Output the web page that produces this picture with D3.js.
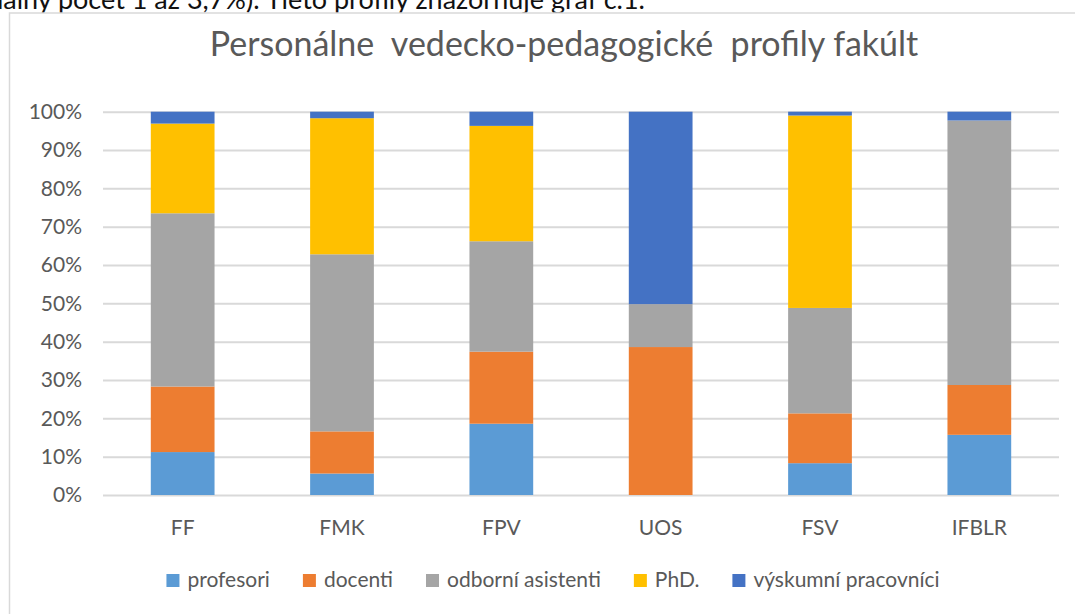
<!DOCTYPE html>
<html>
<head>
<meta charset="utf-8">
<script src="https://cdn.jsdelivr.net/npm/d3@7"></script>
<style>
  html, body { margin: 0; padding: 0; background: #fff; }
  svg { display: block; }
</style>
</head>
<body>
<svg id="chart" width="1075" height="614"></svg>
<script>
// ---- data ----
const categories = ["FF", "FMK", "FPV", "UOS", "FSV", "IFBLR"];
const seriesNames = ["profesori", "docenti", "odborní asistenti", "PhD.", "výskumní pracovníci"];
const seriesColors = ["#5B9BD5", "#ED7D31", "#A5A5A5", "#FFC000", "#4472C4"];
const profesori = [11.2, 5.6, 18.6, 0, 8.3, 15.7];
const docenti = [17.1, 11.0, 18.8, 38.6, 13.0, 13.0];
const odborniAsistenti = [45.2, 46.2, 28.8, 11.2, 27.5, 69.0];
const phd = [23.4, 35.5, 30.1, 0, 50.2, 0];
const vyskumniPracovnici = [3.1, 1.7, 3.7, 50.2, 1.0, 2.3];
const yTicks = [0, 0.1, 0.2, 0.3, 0.4, 0.5, 0.6, 0.7, 0.8, 0.9, 1.0];
const titleText = "Personálne  vedecko-pedagogické  profily fakúlt";
const aboveText = "minimálny počet 1 až 3,7%). Tieto profily znázorňuje graf č.1.";

const seriesValues = [profesori, docenti, odborniAsistenti, phd, vyskumniPracovnici];
const keys = seriesNames;
const rows = categories.map((c, i) => {
  const r = { cat: c };
  const total = d3.sum(seriesValues, s => s[i]);
  keys.forEach((k, j) => { r[k] = seriesValues[j][i] / total; });
  return r;
});
const stacked = d3.stack().keys(keys)(rows);

const svg = d3.select("#chart");
const FONT = "Lato, 'Open Sans', sans-serif";
const TXT = "#595959";

// text above the chart (cut off by the page edge, as in the source document)
svg.append("text")
  .attr("x", 645).attr("y", 9)
  .attr("text-anchor", "end")
  .attr("font-family", FONT).attr("font-size", 27).attr("font-weight", 400)
  .attr("fill", "#111")
  .text(aboveText);

// chart frame
svg.append("rect")
  .attr("x", 9.5).attr("y", 13).attr("width", 1100).attr("height", 700)
  .attr("fill", "#fff").attr("stroke", "#D9D9D9").attr("stroke-width", 1.5);

const plot = { left: 103, right: 1059, top: 111.7, bottom: 495 };
const x = d3.scaleBand().domain(categories).range([plot.left, plot.right]).paddingInner(0.6).paddingOuter(0.3);
const y = d3.scaleLinear().domain([0, 1]).range([plot.bottom, plot.top]);

// title
svg.append("text")
  .attr("x", 564).attr("y", 56)
  .attr("text-anchor", "middle")
  .attr("font-family", FONT).attr("font-size", 34).attr("font-weight", 400)
  .attr("fill", TXT)
  .attr("xml:space", "preserve").style("white-space", "pre")
  .text(titleText);

// gridlines + y axis
const yAxis = d3.axisLeft(y).tickValues(yTicks).tickFormat(d3.format(".0%"))
  .tickSize(-(plot.right - plot.left)).tickPadding(21);
const gy = svg.append("g").attr("transform", `translate(${plot.left},0)`).call(yAxis);
gy.select(".domain").remove();
gy.selectAll(".tick line").attr("stroke", "#D9D9D9").attr("stroke-width", 2);
gy.selectAll(".tick text").attr("font-family", FONT).attr("font-size", 21).attr("fill", TXT);

// bars
svg.append("g").selectAll("g").data(stacked).join("g")
  .attr("fill", (d, i) => seriesColors[i])
  .selectAll("rect").data(d => d).join("rect")
  .attr("x", d => x(d.data.cat))
  .attr("width", x.bandwidth())
  .attr("y", d => y(d[1]))
  .attr("height", d => y(d[0]) - y(d[1]));

// x axis labels
const xAxis = d3.axisBottom(x).tickSize(0).tickPadding(25);
const gx = svg.append("g").attr("transform", `translate(0,${plot.bottom})`).call(xAxis);
gx.select(".domain").remove();
gx.selectAll(".tick text").attr("font-family", FONT).attr("font-size", 21).attr("fill", TXT);

// legend
const legend = svg.append("g");
const items = legend.selectAll("g").data(seriesNames).join("g");
items.append("rect").attr("width", 13).attr("height", 13).attr("y", -13)
  .attr("fill", (d, i) => seriesColors[i]);
items.append("text").attr("x", 21).attr("y", 0)
  .attr("font-family", FONT).attr("font-size", 21).attr("fill", TXT)
  .text(d => d);
let cx = 0;
items.each(function() {
  const w = this.getBBox().width;
  d3.select(this).attr("transform", `translate(${cx},0)`);
  cx += w + 33;
});
const totalW = cx - 33;
legend.attr("transform", `translate(${553 - totalW / 2},587)`);
</script>
</body>
</html>
